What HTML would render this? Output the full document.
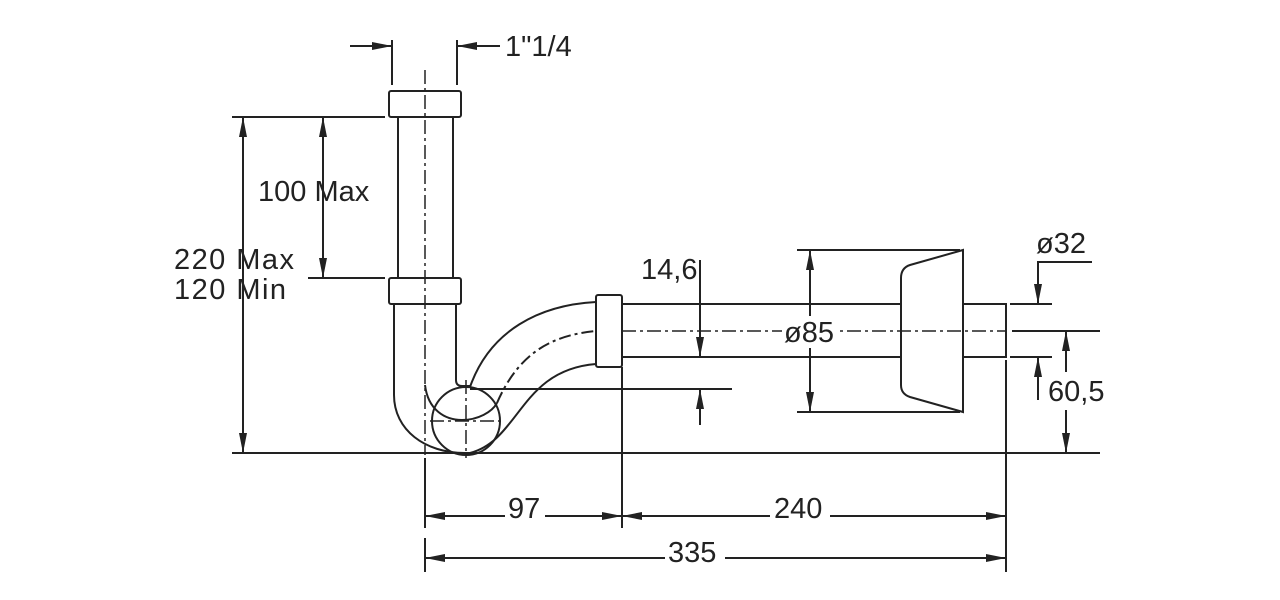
<!DOCTYPE html>
<html><head><style>
html,body{margin:0;padding:0;background:#fff;}
svg{display:block}
text{font-family:"Liberation Sans",Arial,sans-serif;font-size:29px;fill:#222;}
</style></head><body>
<svg width="1280" height="600" viewBox="0 0 1280 600" xmlns="http://www.w3.org/2000/svg">
<defs>
<marker id="a" viewBox="0 0 20 8" refX="20" refY="4" markerWidth="20" markerHeight="8" markerUnits="userSpaceOnUse" orient="auto-start-reverse"><path d="M0,0 L20,4 L0,8 Z" fill="#222"/></marker>
</defs>
<g fill="none" stroke="#222" stroke-width="2">
<line x1="232" y1="453" x2="1100" y2="453"/>
<rect x="389" y="91" width="72" height="26" rx="2"/>
<line x1="398" y1="117" x2="398" y2="278"/>
<line x1="453" y1="117" x2="453" y2="278"/>
<rect x="389" y="278" width="72" height="26" rx="2"/>
<path d="M394,304 L394,395 C394,430 425,453 465,453"/>
<path d="M456,304 L456,380 Q456,386 462,386 L470,386"/>
<path d="M425,385 C428,410 445,420 462,420 C478,420 492,412 497,403"/>
<circle cx="466" cy="421" r="34"/>
<path d="M470,387 C490,330 540,305 596,302"/>
<path d="M470,453 C520,440 520,370 596,364"/>
<path d="M497,403 C520,350 555,335 596,331" stroke-dasharray="12,4,3,4"/>
<rect x="596" y="295" width="26" height="72" rx="2"/>
<line x1="622" y1="304" x2="901" y2="304"/>
<line x1="622" y1="357" x2="901" y2="357"/>
<line x1="470" y1="389" x2="732" y2="389"/>
<path d="M963,250 L963,412 L910,397 Q901,394 901,385 L901,278 Q901,268 910,265 Z"/>
<rect x="963" y="304" width="43" height="53"/>
<g stroke-dasharray="14,4,3,4" stroke-width="1.5">
<line x1="425" y1="70" x2="425" y2="455"/>
<line x1="466" y1="380" x2="466" y2="458"/>
<line x1="430" y1="421" x2="502" y2="421"/>
<line x1="622" y1="331" x2="1006" y2="331"/>
</g>
<line x1="1012" y1="331" x2="1100" y2="331"/>
<line x1="392" y1="40" x2="392" y2="85"/>
<line x1="457" y1="40" x2="457" y2="85"/>
<line x1="350" y1="46" x2="392" y2="46" marker-end="url(#a)"/>
<line x1="500" y1="46" x2="457" y2="46" marker-end="url(#a)"/>
<line x1="232" y1="117" x2="385" y2="117"/>
<line x1="308" y1="278" x2="385" y2="278"/>
<line x1="243" y1="117" x2="243" y2="453" marker-start="url(#a)" marker-end="url(#a)"/>
<line x1="323" y1="117" x2="323" y2="278" marker-start="url(#a)" marker-end="url(#a)"/>
<line x1="700" y1="260" x2="700" y2="357" marker-end="url(#a)"/>
<line x1="700" y1="425" x2="700" y2="389" marker-end="url(#a)"/>
<line x1="797" y1="250" x2="960" y2="250"/>
<line x1="797" y1="412" x2="960" y2="412"/>
<line x1="810" y1="316" x2="810" y2="250" marker-end="url(#a)"/>
<line x1="810" y1="348" x2="810" y2="412" marker-end="url(#a)"/>
<line x1="1010" y1="304" x2="1052" y2="304"/>
<line x1="1010" y1="357" x2="1052" y2="357"/>
<polyline points="1092,262 1038,262 1038,304" marker-end="url(#a)"/>
<line x1="1038" y1="400" x2="1038" y2="357" marker-end="url(#a)"/>
<line x1="1066" y1="372" x2="1066" y2="331" marker-end="url(#a)"/>
<line x1="1066" y1="410" x2="1066" y2="453" marker-end="url(#a)"/>
<line x1="425" y1="458" x2="425" y2="528"/>
<line x1="425" y1="538" x2="425" y2="572"/>
<line x1="622" y1="367" x2="622" y2="528"/>
<line x1="1006" y1="360" x2="1006" y2="572"/>
<line x1="505" y1="516" x2="425" y2="516" marker-end="url(#a)"/>
<line x1="545" y1="516" x2="622" y2="516" marker-end="url(#a)"/>
<line x1="770" y1="516" x2="622" y2="516" marker-end="url(#a)"/>
<line x1="830" y1="516" x2="1006" y2="516" marker-end="url(#a)"/>
<line x1="665" y1="558" x2="425" y2="558" marker-end="url(#a)"/>
<line x1="725" y1="558" x2="1006" y2="558" marker-end="url(#a)"/>
</g>
<g fill="#fff"><rect x="782" y="316" width="56" height="30"/></g>
<text x="505" y="56">1"1/4</text>
<text x="258" y="201">100 Max</text>
<text x="174" y="269" textLength="120">220 Max</text>
<text x="174" y="299" textLength="112">120 Min</text>
<text x="641" y="279">14,6</text>
<text x="784" y="342">ø85</text>
<text x="1036" y="253">ø32</text>
<text x="1048" y="401">60,5</text>
<text x="508" y="518">97</text>
<text x="774" y="518">240</text>
<text x="668" y="562">335</text>
</svg>
</body></html>
